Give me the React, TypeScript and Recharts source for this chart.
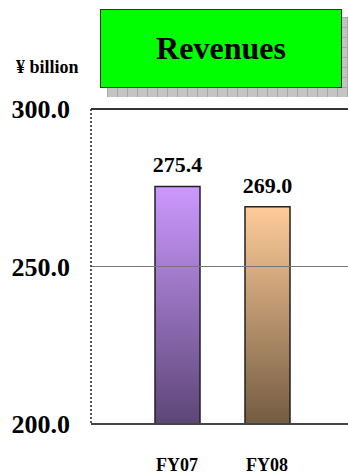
import { BarChart, Bar, XAxis, YAxis, Cell, LabelList, ReferenceLine } from 'recharts'

const categories = ['FY07', 'FY08']
const revenues = [275.4, 269.0]
const yTicks = [200, 250, 300]

const GRADIENTS = [
    { id: 'gradFY07', top: '#CC99FF', bottom: '#5C4676' },
    { id: 'gradFY08', top: '#FFCC99', bottom: '#735C42' },
]

const FONT = '"Liberation Serif", "Times New Roman", serif'

const data = categories.map((name, i) => ({ name, value: revenues[i] }))

function YTick(props: any) {
    const { x, y, payload } = props
    return (
        <text x={x} y={y} dy={9} textAnchor="end" fontFamily={FONT} fontWeight="bold" fontSize={26} fill="#000">
            {payload.value.toFixed(1)}
        </text>
    )
}

function XTick(props: any) {
    const { x, y, payload } = props
    return (
        <text x={x} y={y} dy={47} textAnchor="middle" fontFamily={FONT} fontWeight="bold" fontSize={18} fill="#000">
            {payload.value}
        </text>
    )
}

export default function App() {
    return (
        <div style={{ position: 'absolute', left: 0, top: 0, width: 348, height: 474, background: '#fff', overflow: 'hidden' }}>
            {/* title box with checkered shadow */}
            <div
                style={{
                    position: 'absolute',
                    left: 107,
                    top: 17,
                    width: 242,
                    height: 80,
                    backgroundColor: '#C4C4C4',
                    backgroundImage:
                        'linear-gradient(to right, #A8A8A8 1px, transparent 1px), linear-gradient(to bottom, #A8A8A8 1px, transparent 1px)',
                    backgroundSize: '10px 10px',
                }}
            />
            <div
                style={{
                    position: 'absolute',
                    left: 100,
                    top: 9,
                    width: 240,
                    height: 77,
                    background: '#00FF00',
                    border: '1.5px solid #333',
                    display: 'flex',
                    alignItems: 'center',
                    justifyContent: 'center',
                    fontFamily: FONT,
                    fontWeight: 'bold',
                    fontSize: 32,
                    color: '#000',
                }}
            >
                Revenues
            </div>
            <div
                style={{
                    position: 'absolute',
                    left: 16,
                    top: 56,
                    fontFamily: FONT,
                    fontWeight: 'bold',
                    fontSize: 18,
                    lineHeight: '22px',
                    color: '#000',
                }}
            >
                ¥ billion
            </div>
            <div style={{ position: 'absolute', left: 0, top: 0 }}>
                <BarChart width={348} height={474} data={data} margin={{ top: 109, right: 0, bottom: 0, left: 0 }}>
                    <defs>
                        {GRADIENTS.map((g) => (
                            <linearGradient key={g.id} id={g.id} x1="0" y1="0" x2="0" y2="1">
                                <stop offset="0%" stopColor={g.top} />
                                <stop offset="100%" stopColor={g.bottom} />
                            </linearGradient>
                        ))}
                    </defs>
                    <XAxis
                        dataKey="name"
                        height={50}
                        padding={{ left: 41, right: 36 }}
                        axisLine={{ stroke: '#444', strokeWidth: 2 }}
                        tickLine={false}
                        tickSize={0}
                        tickMargin={0}
                        tick={<XTick />}
                        interval={0}
                    />
                    <YAxis
                        domain={[200, 300]}
                        ticks={yTicks}
                        width={91}
                        axisLine={{ stroke: '#222', strokeDasharray: '2 2', strokeWidth: 1.5 }}
                        tickLine={false}
                        tickSize={0}
                        tickMargin={21}
                        tick={<YTick />}
                        allowDataOverflow
                    />
                    <ReferenceLine y={250} stroke="#777" strokeWidth={1} />
                    <ReferenceLine y={300} stroke="#333" strokeWidth={2} />
                    <Bar dataKey="value" barSize={45} stroke="#222" strokeWidth={1.5} isAnimationActive={false}>
                        {data.map((entry, index) => (
                            <Cell key={`cell-${index}`} fill={`url(#${GRADIENTS[index].id})`} />
                        ))}
                        <LabelList
                            dataKey="value"
                            position="top"
                            offset={14}
                            formatter={(v: any) => Number(v).toFixed(1)}
                            style={{ fontFamily: FONT, fontWeight: 'bold', fontSize: 22, fill: '#000' }}
                        />
                    </Bar>
                </BarChart>
            </div>
        </div>
    )
}
